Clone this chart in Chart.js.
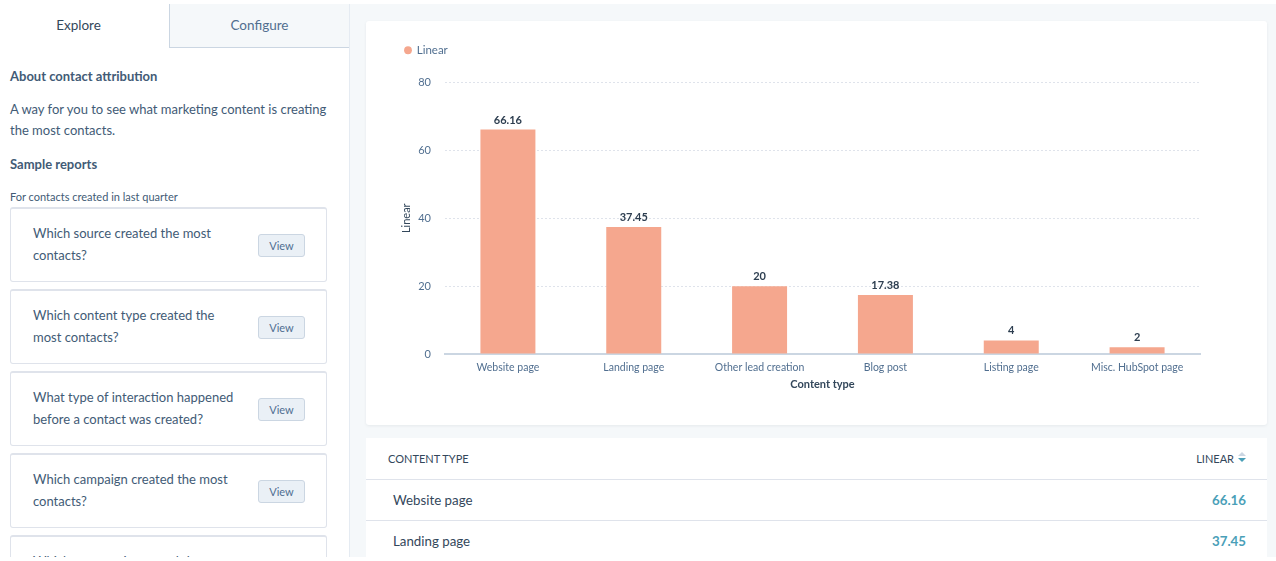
<!DOCTYPE html>
<html>
<head>
<meta charset="utf-8">
<title>Contact attribution</title>
<script src="https://cdn.jsdelivr.net/npm/chart.js@4/dist/chart.umd.js"></script>
<style>
  html, body { margin: 0; padding: 0; background: #fff; }
  body { width: 1276px; height: 561px; overflow: hidden; position: relative; font-family: Lato, sans-serif; color: #33475b; }
  .abs { position: absolute; white-space: nowrap; }
  #page { position: absolute; left: 0; top: 4px; width: 1276px; height: 553px; overflow: hidden; }
  #right-bg { position: absolute; left: 349px; top: 0; width: 927px; height: 553px; background: #f5f8fa; border-left: 1px solid #e5ebf2; box-sizing: border-box; }
  #tab2 { position: absolute; left: 169px; top: 0; width: 179px; height: 43px; background: #f5f8fa; border-left: 1px solid #cbd6e2; border-bottom: 1px solid #cbd6e2; text-align: center; line-height: 42px; font-size: 13.5px; color: #516f90; }
  #tab1 { position: absolute; left: 0; top: 0; width: 157px; text-align: center; line-height: 42px; font-size: 13.5px; }
  .q { position: absolute; left: 10px; width: 317px; height: 75px; box-sizing: border-box; border: 1px solid #dfe3eb; border-top-width: 2px; border-radius: 3px; background: #fff; }
  .q p { position: absolute; left: 22px; top: 13px; margin: 0; font-size: 13px; line-height: 22px; color: #425b76; white-space: nowrap; }
  .q span { position: absolute; left: 247px; top: 25px; width: 47px; height: 23px; box-sizing: border-box; background: #eaf0f6; border: 1px solid #cbd6e2; border-radius: 3px; font-size: 11px; line-height: 21px; text-align: center; color: #506e91; }
  #chart-card { position: absolute; left: 366px; top: 17px; width: 901px; height: 404px; background: #fff; border-radius: 3px; box-shadow: 0 1px 3px rgba(45,62,80,.08); }
  #table-card { position: absolute; left: 366px; top: 434px; width: 901px; height: 125px; background: #fff; }
  .row { position: absolute; left: 0; width: 901px; height: 41px; border-top: 1px solid #dfe3eb; box-sizing: border-box; }
  .row b { position: absolute; left: 27px; top: 11.5px; font-weight: 400; font-size: 13.3px; color: #33475b; }
  .row i { position: absolute; right: 21px; top: 11.5px; font-style: normal; font-weight: 700; font-size: 13.3px; color: #4a9fb8; }
</style>
</head>
<body>
<div id="page">
  <div id="right-bg"></div>
  <div id="tab1">Explore</div>
  <div id="tab2">Configure</div>
  <div class="abs" style="left:10px;top:64px;font-size:13px;font-weight:700;color:#425b76">About contact attribution</div>
  <div class="abs" style="left:10px;top:95px;font-size:13px;line-height:21px;color:#425b76">A way for you to see what marketing content is creating<br>the most contacts.</div>
  <div class="abs" style="left:10px;top:152px;font-size:13px;font-weight:700;color:#425b76">Sample reports</div>
  <div class="abs" style="left:10px;top:186px;font-size:11px;color:#425b76">For contacts created in last quarter</div>
  <div id="questions"></div>
  <div id="chart-card"><canvas id="attribution-bar"></canvas></div>
  <div id="table-card">
    <div class="abs" style="left:22px;top:14px;font-size:11px;color:#33475b">CONTENT TYPE</div>
    <div class="abs" style="right:33px;top:14px;font-size:11px;color:#33475b">LINEAR</div>
    <div class="abs" style="right:21px;top:14px;width:0;height:0;border:4px solid transparent;border-top:0;border-bottom:4px solid #cbd6e2"></div>
    <div class="abs" style="right:21px;top:20px;width:0;height:0;border:4px solid transparent;border-bottom:0;border-top:4px solid #4a9fb8"></div>
    <div id="rows"></div>
  </div>
</div>
<script>
const categories = ['Website page', 'Landing page', 'Other lead creation', 'Blog post', 'Listing page', 'Misc. HubSpot page']
const linearValues = [66.16, 37.45, 20, 17.38, 4, 2]
const yTicks = [0, 20, 40, 60, 80]
const tableRows = 2
const questions = [
  'Which source created the most<br>contacts?',
  'Which content type created the<br>most contacts?',
  'What type of interaction happened<br>before a contact was created?',
  'Which campaign created the most<br>contacts?',
  'Which page topic created the<br>most contacts?'
]

const fontFamily = 'Lato, sans-serif'

// sidebar cards
questions.forEach((text, i) => {
  const card = document.createElement('div')
  card.className = 'q'
  card.style.top = (203 + i * 82) + 'px'
  card.innerHTML = '<p>' + text + '</p><span>View</span>'
  document.getElementById('questions').appendChild(card)
})

// table under the chart
for (let i = 0; i < tableRows; i++) {
  const row = document.createElement('div')
  row.className = 'row'
  row.style.top = (41 + i * 41) + 'px'
  row.innerHTML = '<b>' + categories[i] + '</b><i>' + linearValues[i] + '</i>'
  document.getElementById('rows').appendChild(row)
}

// value above each bar
const barValues = {
  id: 'barValues',
  afterDatasetsDraw(chart) {
    const ctx = chart.ctx
    ctx.save()
    ctx.font = '700 11px ' + fontFamily
    ctx.fillStyle = '#2d3e50'
    ctx.textAlign = 'center'
    ctx.textBaseline = 'bottom'
    chart.getDatasetMeta(0).data.forEach((bar, i) => {
      ctx.fillText(linearValues[i], bar.x, bar.y - 4)
    })
    ctx.restore()
  }
}

// more room between the legend and the plot
const legendGap = {
  id: 'legendGap',
  beforeInit(chart) {
    const fit = chart.legend.fit
    chart.legend.fit = function () {
      fit.bind(chart.legend)()
      this.height += 16.5
    }
  }
}

const canvas = document.getElementById('attribution-bar')
canvas.style.width = '901px'
canvas.style.height = '404px'

new Chart(canvas, {
  type: 'bar',
  data: {
    labels: categories,
    datasets: [{
      label: 'Linear',
      data: linearValues,
      backgroundColor: '#f5a78e',
      borderWidth: 0,
      barPercentage: 0.437,
      categoryPercentage: 1
    }]
  },
  options: {
    responsive: false,
    animation: false,
    layout: { padding: { left: 34, right: 67, top: 18.5, bottom: 34 } },
    plugins: {
      tooltip: { enabled: false },
      legend: {
        align: 'start',
        labels: {
          usePointStyle: true,
          pointStyle: 'circle',
          boxWidth: 6,
          boxHeight: 5.5,
          padding: 5,
          color: '#516f90',
          font: { family: fontFamily, size: 11.5 }
        }
      }
    },
    scales: {
      x: {
        afterFit(scale) { scale.height = 37 },
        grid: { display: false, drawTicks: false },
        border: { color: '#cbd6e2', width: 2 },
        ticks: { color: '#516f90', font: { family: fontFamily, size: 10.5 }, padding: 7, maxRotation: 0, autoSkip: false },
        title: { display: true, text: 'Content type', color: '#33475b', font: { family: fontFamily, size: 11, weight: '700' }, padding: { top: 2, bottom: 0 } }
      },
      y: {
        min: 0,
        max: 80,
        afterFit(scale) { scale.width = 45 },
        afterBuildTicks(scale) { scale.ticks = yTicks.map(v => ({ value: v })) },
        grid: { color: '#dfe3eb', lineWidth: 1, drawTicks: false },
        border: { display: false, dash: [2, 2] },
        ticks: { color: '#516f90', font: { family: fontFamily, size: 11 }, padding: 14 },
        title: { display: true, text: 'Linear', color: '#33475b', font: { family: fontFamily, size: 11 }, padding: { top: 0, bottom: 8 } }
      }
    }
  },
  plugins: [barValues, legendGap]
})
</script>
</body>
</html>
